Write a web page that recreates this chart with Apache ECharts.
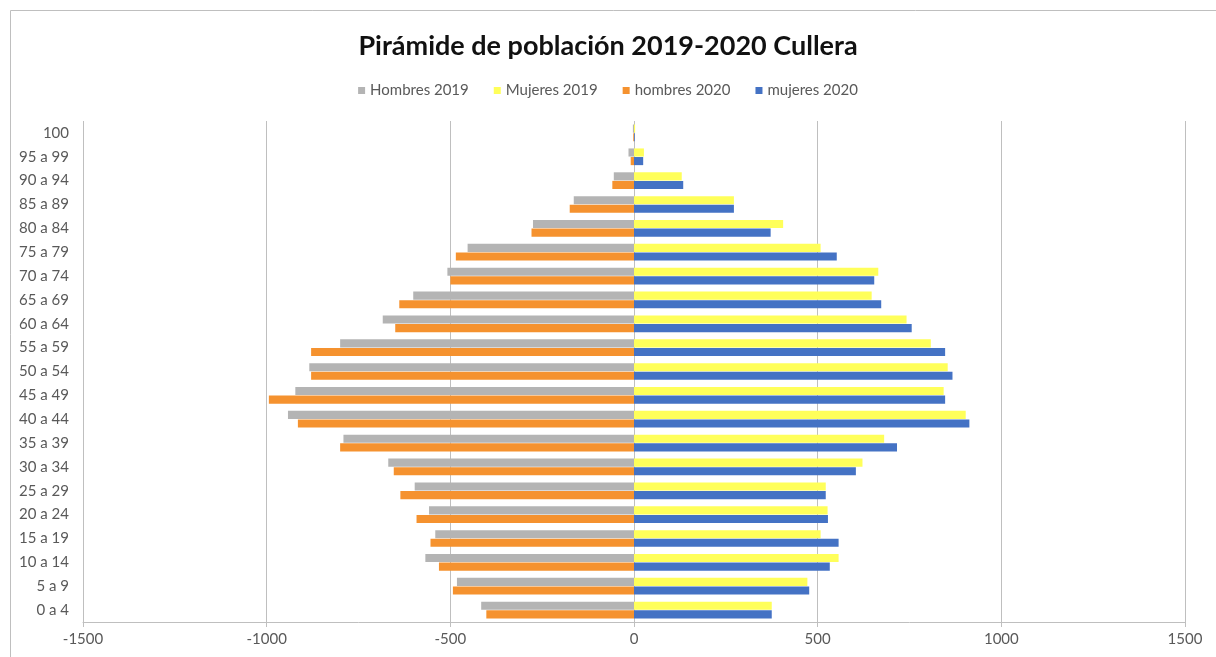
<!DOCTYPE html>
<html>
<head>
<meta charset="utf-8">
<script src="https://cdn.jsdelivr.net/npm/echarts@6/dist/echarts.min.js"></script>
<style>
html,body{margin:0;padding:0;background:#fff;}
#c{width:1216px;height:657px;}
</style>
</head>
<body>
<div id="c"></div>
<script>
const categories = ['0 a 4','5 a 9','10 a 14','15 a 19','20 a 24','25 a 29','30 a 34','35 a 39','40 a 44','45 a 49','50 a 54','55 a 59','60 a 64','65 a 69','70 a 74','75 a 79','80 a 84','85 a 89','90 a 94','95 a 99','100'];
const hombres2019 = [-416,-482,-568,-541,-558,-597,-669,-791,-942,-922,-884,-800,-684,-601,-508,-453,-275,-164,-55,-15,-3];
const mujeres2019 = [375,472,557,508,527,522,622,681,903,843,854,808,742,647,665,508,406,272,130,27,3];
const hombres2020 = [-402,-493,-531,-554,-592,-636,-654,-800,-915,-994,-879,-879,-650,-639,-500,-485,-279,-175,-59,-9,-2];
const mujeres2020 = [375,477,533,557,528,522,604,716,913,847,867,847,756,673,654,552,372,272,134,25,2];
const xTicks = {min:-1500, max:1500, interval:500};
const seriesNames = ['Hombres 2019','Mujeres 2019','hombres 2020','mujeres 2020'];

const FONT = 'Lato, "Open Sans", sans-serif';
const chart = echarts.init(document.getElementById('c'), null, {renderer:'canvas'});
const common = {type:'bar', barCategoryGap:'30%', barGap:'6%'};
chart.setOption({
  animation:false,
  backgroundColor:'#fff',
  textStyle:{fontFamily:FONT},
  graphic:[{type:'rect', silent:true, shape:{x:10.5,y:10.5,width:1215,height:660}, style:{fill:'none', stroke:'#BFBFBF', lineWidth:1}}],
  title:{text:'Pirámide de población 2019-2020 Cullera', left:'center', top:28,
    textStyle:{fontFamily:FONT, fontWeight:'bold', fontSize:27, color:'#111'}},
  legend:{data:seriesNames, top:78, left:'center', itemWidth:7, itemHeight:7, itemGap:25, icon:'rect',
    textStyle:{fontFamily:FONT, fontSize:15, color:'#595959'}},
  grid:{left:83, right:31, top:121, bottom:35, containLabel:false},
  xAxis:{type:'value', min:xTicks.min, max:xTicks.max, interval:xTicks.interval,
    axisLine:{show:true, lineStyle:{color:'#BFBFBF'}},
    axisTick:{show:true, length:5, lineStyle:{color:'#BFBFBF'}},
    axisLabel:{color:'#595959', fontSize:15, margin:10, formatter:v=>String(v)},
    splitLine:{show:true, lineStyle:{color:'#BFBFBF', width:1}}},
  yAxis:{type:'category', data:categories,
    axisLine:{show:false, onZero:false}, axisTick:{show:false},
    axisLabel:{color:'#595959', fontSize:15, margin:14}},
  series:[
    Object.assign({name:seriesNames[0], stack:'y2019', data:hombres2019, itemStyle:{color:'#B4B4B4'}}, common),
    Object.assign({name:seriesNames[1], stack:'y2019', data:mujeres2019, itemStyle:{color:'#FFFF5A'}}, common),
    Object.assign({name:seriesNames[2], stack:'y2020', data:hombres2020, itemStyle:{color:'#F5922F'}}, common),
    Object.assign({name:seriesNames[3], stack:'y2020', data:mujeres2020, itemStyle:{color:'#4472C4'}}, common)
  ]
});
</script>
</body>
</html>
